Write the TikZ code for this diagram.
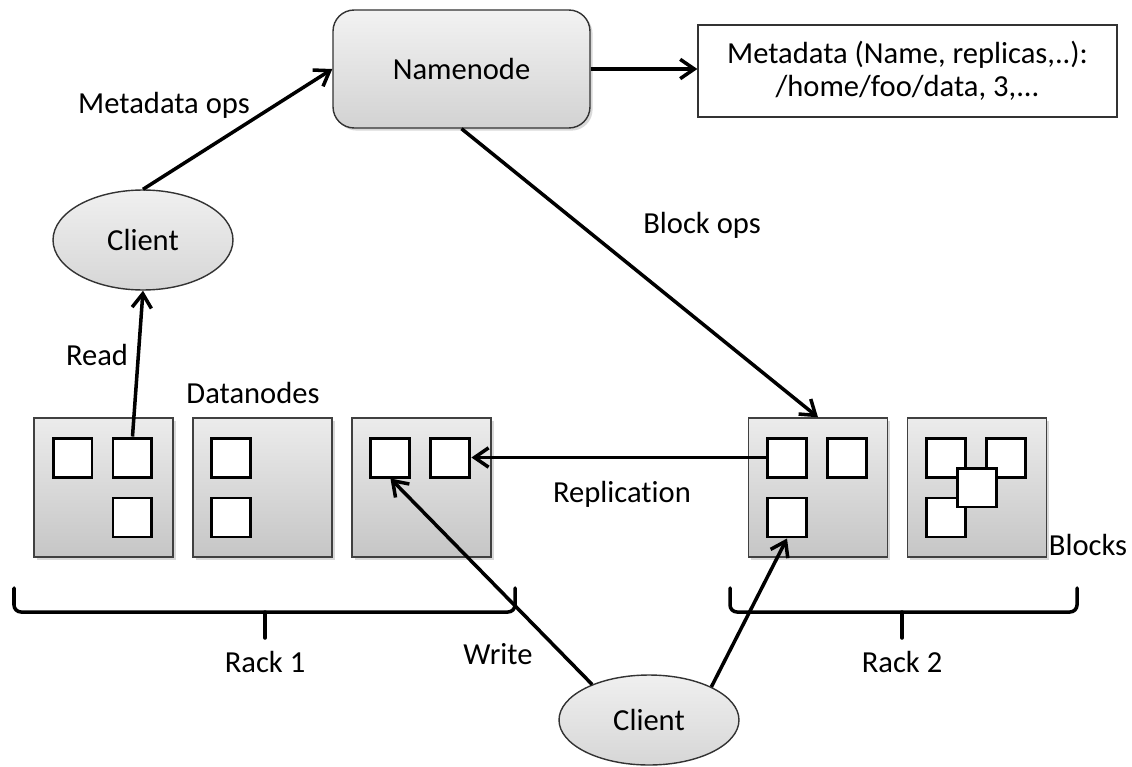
\documentclass[tikz,border=0pt]{standalone}
\usepackage{fontspec}
\setmainfont{Carlito}[Ligatures=NoCommon]
\usetikzlibrary{arrows.meta,positioning,shapes.geometric,shadows}

\begin{document}
\begin{tikzpicture}[x=0.02cm,y=-0.02cm,on grid,node distance=3.18cm,
    font=\fontsize{17.4}{19}\selectfont,
    flow/.style={line width=2pt,-{Straight Barb[length=8pt,width=11pt]}},
    rack/.style={line width=2pt,line cap=round,rounded corners=4pt},
    client/.style={ellipse,draw=black!80,thick,top color=gray!12,bottom color=gray!32,
      minimum width=3.6cm,inner sep=0pt},
    datanode/.style={draw=black!75,thick,minimum size=2.78cm,top color=gray!15,
      bottom color=gray!45,drop shadow={shadow xshift=1.5pt,shadow yshift=-1.5pt,opacity=0.3}},
    block/.style={draw,line width=1.7pt,fill=white,minimum size=0.78cm}]
  \useasboundingbox (0,0) rectangle (1132,767);

  % name node and metadata
  \node[draw=black!80,thick,rounded corners=12pt,top color=gray!10,bottom color=gray!35,
    minimum width=5.14cm,minimum height=2.36cm,
    drop shadow={shadow xshift=1.5pt,shadow yshift=-1.5pt,opacity=0.3}] (namenode) at (461.5,69) {Namenode};
  \node[draw=black!80,thick,minimum width=8.38cm,minimum height=1.84cm,align=center] (meta) at (907.5,71)
    {Metadata (Name, replicas,..):\\/home/foo/data, 3,...};

  % clients
  \node[client,minimum height=2cm] (client1) at (143,240) {Client};
  \node[client,minimum height=1.8cm] (client2) at (649,720) {Client};

  % rack 1
  \node[datanode] (dn1) at (103.5,487.5) {};
  \node[datanode] (dn2) [right=of dn1] {};
  \node[datanode] (dn3) [right=of dn2] {};
  % rack 2
  \node[datanode] (dn4) at (818,487.5) {};
  \node[datanode] (dn5) [right=of dn4] {};

  % blocks
  \node[block] (b11) [above left=0.6cm and 0.62cm of dn1] {};
  \node[block] (b12) [above right=0.6cm and 0.58cm of dn1] {};
  \node[block] (b13) [below right=0.6cm and 0.58cm of dn1] {};
  \node[block] (b21) [above left=0.6cm and 0.62cm of dn2] {};
  \node[block] (b22) [below left=0.6cm and 0.62cm of dn2] {};
  \node[block] (b31) [above left=0.6cm and 0.62cm of dn3] {};
  \node[block] (b32) [above right=0.6cm and 0.58cm of dn3] {};
  \node[block] (b41) [above left=0.6cm and 0.62cm of dn4] {};
  \node[block] (b42) [above right=0.6cm and 0.58cm of dn4] {};
  \node[block] (b43) [below left=0.6cm and 0.62cm of dn4] {};
  \node[block] (b51) [above left=0.6cm and 0.62cm of dn5] {};
  \node[block] (b52) [above right=0.6cm and 0.58cm of dn5] {};
  \node[block] (b53) [below left=0.6cm and 0.62cm of dn5] {};
  \node[block] (b54) at (dn5.center) {};

  % racks
  \draw[rack] (14,588) -- (14,612) -- (515,612) -- (515,588);
  \draw[rack] (265,612) -- (265,638);
  \draw[rack] (730,588) -- (730,612) -- (1077,612) -- (1077,588);
  \draw[rack] (902,612) -- (902,638);

  % labels
  \node (lmeta) at (164,105) {Metadata ops};
  \node (lblock) at (702,225) {Block ops};
  \node (lread) at (97,355) {Read};
  \node (ldata) at (253,393) {Datanodes};
  \node (lrepl) at (622,494) {Replication};
  \node (lblocks) at (1088,545) {Blocks};
  \node (lrack1) at (265,662) {Rack 1};
  \node (lwrite) at (498,654) {Write};
  \node (lrack2) at (902,662) {Rack 2};

  \path[flow]
    (client1.north) edge (namenode.west)
    (namenode.east) edge (namenode.east -| meta.west)
    (namenode.south) edge (dn4.north)
    (b12.north) edge (client1.south)
    (b41.west) edge (b32.east)
    (client2.148) edge (b31.south)
    (client2.28) edge (b43.south)
  ;
\end{tikzpicture}
\end{document}
